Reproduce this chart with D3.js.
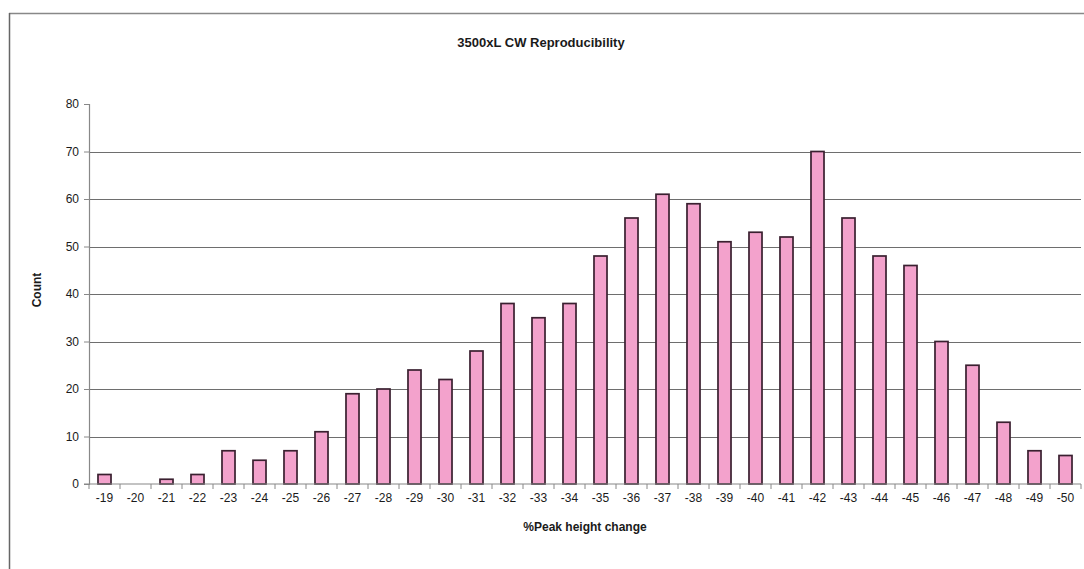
<!DOCTYPE html>
<html>
<head>
<meta charset="utf-8">
<script src="https://cdn.jsdelivr.net/npm/d3@7"></script>
<style>
  html, body { margin: 0; padding: 0; background: #fff; }
  svg { display: block; }
  text { font-family: "Liberation Sans", Arial, sans-serif; fill: #1a1a1a; }
</style>
</head>
<body>
<svg id="chart" width="1084" height="569"></svg>
<script>
const categories = ["-19","-20","-21","-22","-23","-24","-25","-26","-27","-28","-29","-30","-31","-32","-33","-34","-35","-36","-37","-38","-39","-40","-41","-42","-43","-44","-45","-46","-47","-48","-49","-50"];
const counts = [2,0,1,2,7,5,7,11,19,20,24,22,28,38,35,38,48,56,61,59,51,53,52,70,56,48,46,30,25,13,7,6];
const yTicks = [0,10,20,30,40,50,60,70,80];
const titleText = "3500xL CW Reproducibility";
const xTitle = "%Peak height change";
const yTitle = "Count";

const svg = d3.select("#chart");
const W = 1084, H = 569;
const m = {left: 89, right: 3, top: 104, bottom: 85};

// outer frame (top + left visible)
svg.append("line").attr("x1", 9).attr("x2", W).attr("y1", 13.5).attr("y2", 13.5)
  .attr("stroke", "#888").attr("stroke-width", 1.5);
svg.append("line").attr("x1", 9.5).attr("x2", 9.5).attr("y1", 13).attr("y2", H)
  .attr("stroke", "#666").attr("stroke-width", 1.5);

const x = d3.scaleBand().domain(categories).range([m.left, W - m.right]).paddingInner(0.58).paddingOuter(0.29);
const y = d3.scaleLinear().domain([0, 80]).range([H - m.bottom, m.top]);

// gridlines
svg.append("g").selectAll("line").data(yTicks.filter(d => d > 0 && d < 80)).join("line")
  .attr("x1", m.left).attr("x2", W - m.right)
  .attr("y1", d => Math.round(y(d)) + 0.5).attr("y2", d => Math.round(y(d)) + 0.5)
  .attr("stroke", "#6e6e6e").attr("stroke-width", 1.2);

// bars
svg.append("g").selectAll("rect").data(counts).join("rect")
  .attr("x", (d, i) => x(categories[i]))
  .attr("width", x.bandwidth())
  .attr("y", d => y(d))
  .attr("height", d => y(0) - y(d))
  .attr("fill", "#f3a2cc")
  .attr("stroke", "#3a2030").attr("stroke-width", 1.7);

// y axis
const yAxis = svg.append("g").attr("transform", `translate(${m.left},0)`)
  .call(d3.axisLeft(y).tickValues(yTicks).tickSize(5).tickPadding(5));
yAxis.select(".domain").attr("stroke", "#888").attr("stroke-width", 1.2);
yAxis.selectAll(".tick line").attr("stroke", "#888");
yAxis.selectAll("text").style("font-size", "12px").attr("fill", "#1a1a1a");

// x axis (ticks between categories)
const xg = svg.append("g").attr("transform", `translate(0,${y(0)})`);
xg.append("line").attr("x1", m.left - 5).attr("x2", W - m.right).attr("y1", 0).attr("y2", 0)
  .attr("stroke", "#888").attr("stroke-width", 1.2);
const boundaries = d3.range(categories.length + 1).map(i => m.left + i * (W - m.right - m.left) / categories.length);
xg.selectAll("line.tk").data(boundaries).join("line").attr("class", "tk")
  .attr("x1", d => d).attr("x2", d => d).attr("y1", 0).attr("y2", 5)
  .attr("stroke", "#888");
xg.selectAll("text").data(categories).join("text")
  .attr("x", d => x(d) + x.bandwidth() / 2)
  .attr("y", 18)
  .attr("text-anchor", "middle")
  .style("font-size", "12px")
  .text(d => d);

// titles
svg.append("text").attr("x", 541).attr("y", 47).attr("text-anchor", "middle")
  .style("font-size", "13px").style("font-weight", "bold").text(titleText);
svg.append("text").attr("x", 585).attr("y", 531).attr("text-anchor", "middle")
  .style("font-size", "12px").style("font-weight", "bold").text(xTitle);
svg.append("text").attr("transform", "translate(41,290) rotate(-90)").attr("text-anchor", "middle")
  .style("font-size", "12px").style("font-weight", "bold").text(yTitle);
</script>
</body>
</html>
